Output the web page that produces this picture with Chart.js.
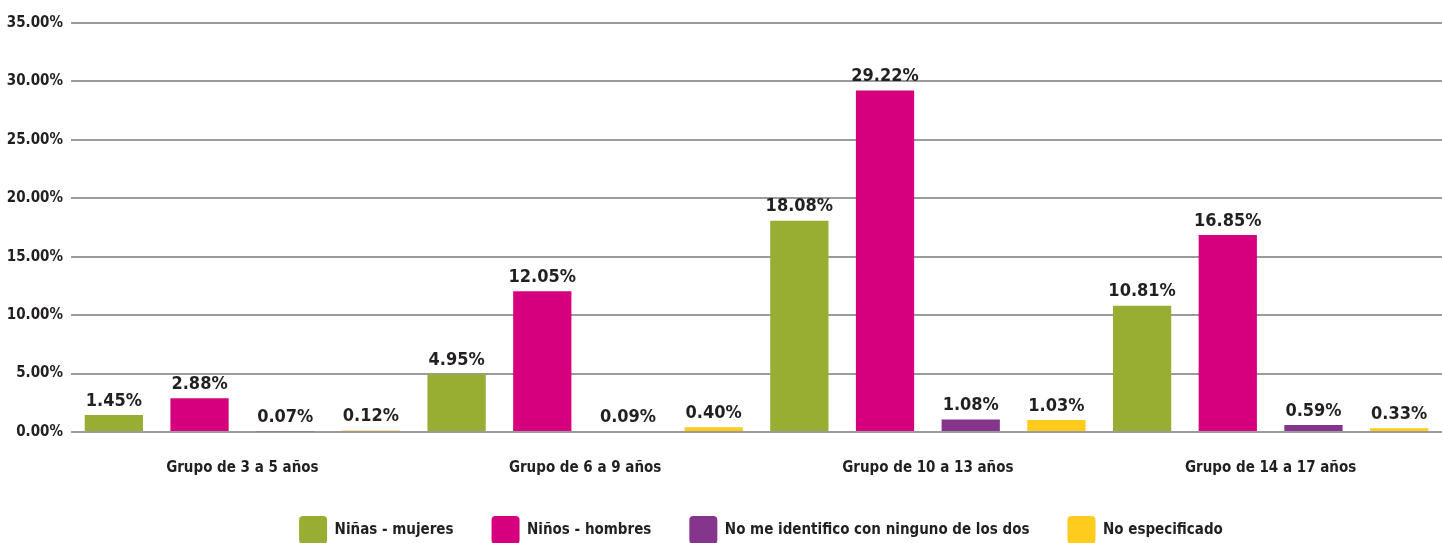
<!DOCTYPE html>
<html>
<head>
<meta charset="utf-8">
<script src="https://cdn.jsdelivr.net/npm/chart.js@4.4.1/dist/chart.umd.min.js"></script>
<style>
  html, body { margin: 0; padding: 0; background: #fff; overflow: hidden; }
  #wrap { width: 1442px; height: 554px; }
</style>
</head>
<body>
<div id="wrap"><canvas id="grafica"></canvas></div>
<script>
const grupos = [
  "Grupo de 3 a 5 años",
  "Grupo de 6 a 9 años",
  "Grupo de 10 a 13 años",
  "Grupo de 14 a 17 años",
];

const ninas = [1.45, 4.95, 18.08, 10.81];
const ninos = [2.88, 12.05, 29.22, 16.85];
const noIdentifico = [0.07, 0.09, 1.08, 0.59];
const noEspecificado = [0.12, 0.4, 1.03, 0.33];

const FUENTE = "'Liberation Sans Narrow', 'DejaVu Sans Condensed', sans-serif";
const TEXTO = "#231f20";

// etiquetas de valor encima de cada barra
const etiquetasBarras = {
  id: "etiquetasBarras",
  afterDatasetsDraw(chart) {
    const { ctx } = chart;
    ctx.save();
    ctx.font = "bold 18px " + FUENTE;
    ctx.fillStyle = TEXTO;
    ctx.textAlign = "center";
    ctx.textBaseline = "bottom";
    chart.data.datasets.forEach((ds, i) => {
      chart.getDatasetMeta(i).data.forEach((bar, j) => {
        ctx.fillText(ds.data[j].toFixed(2) + "%", bar.x, bar.y - 5);
      });
    });
    ctx.restore();
  },
};

// la leyenda del original está algo desplazada a la derecha
const moverLeyenda = {
  id: "moverLeyenda",
  afterLayout(chart) {
    if (chart.legend) {
      chart.legend.left += 40;
      chart.legend.right += 40;
    }
  },
};

const serie = (label, data, color) => ({
  label,
  data,
  backgroundColor: color,
  borderWidth: 0,
  barPercentage: 0.68,
  categoryPercentage: 1,
});

new Chart(document.getElementById("grafica"), {
  type: "bar",
  data: {
    labels: grupos,
    datasets: [
      serie("Niñas - mujeres", ninas, "#97ae33"),
      serie("Niños - hombres", ninos, "#d6007e"),
      serie("No me identifico con ninguno de los dos", noIdentifico, "#85358b"),
      serie("No especificado", noEspecificado, "#ffcc1e"),
    ],
  },
  options: {
    responsive: true,
    maintainAspectRatio: false,
    animation: false,
    layout: { padding: { top: 23, right: 0, left: 0, bottom: 0 } },
    scales: {
      x: {
        // the axis reserves 2x padding; keep it compact so the legend sits close
        afterFit: (axis) => { axis.height = 46; },
        grid: { display: false, drawTicks: false },
        border: { display: false },
        ticks: {
          color: TEXTO,
          font: { family: FUENTE, size: 15, weight: "bold" },
          padding: 27,
        },
      },
      y: {
        min: 0,
        max: 35,
        afterFit: (axis) => { axis.width = 71; },
        grid: { color: "#9b9b9b", lineWidth: 2, drawTicks: false },
        border: { display: false },
        ticks: {
          stepSize: 5,
          color: TEXTO,
          padding: 8,
          font: { family: FUENTE, size: 15, weight: "bold" },
          callback: (v) => v.toFixed(2) + "%",
        },
      },
    },
    plugins: {
      tooltip: { enabled: false },
      legend: {
        position: "bottom",
        labels: {
          color: TEXTO,
          font: { family: FUENTE, size: 15, weight: "bold" },
          boxWidth: 28,
          boxHeight: 28,
          useBorderRadius: true,
          borderRadius: 4,
          padding: 38,
        },
      },
    },
  },
  plugins: [etiquetasBarras, moverLeyenda],
});
</script>
</body>
</html>
